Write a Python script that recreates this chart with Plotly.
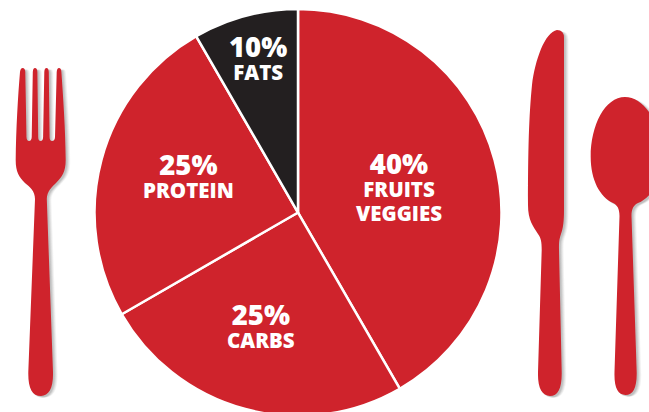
import plotly.graph_objects as go

W, H = 649, 416  # page is cropped to the 412 px window; the plate runs past the bottom edge

# Slices as drawn (sweep in degrees, clockwise from 12 o'clock)
categories = ["FRUITS<br>VEGGIES", "CARBS", "PROTEIN", "FATS"]
drawn_sweep = [150, 90, 90, 30]
share_labels = ["40%", "25%", "25%", "10%"]
slice_colors = ["#cf232c", "#cf232c", "#cf232c", "#231f20"]
label_pos = [(399, 186.3), (261, 324.5), (188, 174.5), (258, 57)]

RED = "#cf232c"
SHADOW = "#8a8a8a"

FORK = ("M 15.7,160 C 16,130 18,95 20,72 Q 20.5,68 22.7,68 Q 25,68 25.3,72 L 26.5,137 Q 26.7,141 29,141 "
        "Q 31.5,141 31.7,137 L 32.8,72 Q 33,68 35,68 Q 37.2,68 37.4,72 L 38.2,137 Q 38.3,141 40.5,141 "
        "Q 43,141 43.1,137 L 44.3,72 Q 44.5,68 46.5,68 Q 48.6,68 48.8,72 L 49.6,137 Q 49.7,141 52,141 "
        "Q 54.8,141 55,137 L 56.7,72 Q 57,68 59,68 Q 61.2,68 61.4,72 C 63,95 65.5,130 65.7,160 "
        "C 65.7,172 62,177 56,183 C 52,187 47,191 46.8,199 L 53,372 C 53.5,388 49,396 41,396 "
        "C 32,396 28,388 28.3,372 L 35,199 C 35,191 30,187 25,183 C 19,177 15.7,172 15.7,160 Z")

KNIFE = ("M 564,38 Q 564,30 557,30 C 545,32 535,60 532,85 C 529,115 528,150 528,205 "
         "C 528,220 533,226 538,234 C 541,238 541.7,242 541.7,250 L 538,372 C 537.5,388 542,396 550,396 "
         "C 558,396 562,388 561.7,372 L 559,250 C 559,242 559,240 561,234 C 563,228 564,222 564,210 Z")

SPOON = ("M 625,97 C 605,97 590.7,125 590.7,157 C 590.7,180 600,197 613,203 C 617,205 619.5,208 619.5,216 "
         "L 614.5,372 C 614,388 618,395 625.5,395 C 633,395 637,388 636.7,372 L 631.5,216 "
         "C 631.5,208 634,205 638,203 C 652,197 662,180 662,157 C 662,125 645,97 625,97 Z")


def to_paper(path, dx=0.0, dy=0.0):
    out = []
    for tok in path.split():
        if "," in tok:
            x, y = tok.split(",")
            out.append(f"{(float(x) + dx) / W:.5f},{1 - (float(y) + dy) / H:.5f}")
        else:
            out.append(tok)
    return " ".join(out)


shapes = []
for p in (FORK, KNIFE, SPOON):
    for off, op in ((4.5, 0.10), (3.5, 0.14), (2.5, 0.2), (1.5, 0.25)):
        shapes.append(dict(type="path", path=to_paper(p, off, 1.5), xref="paper", yref="paper",
                           fillcolor=SHADOW, opacity=op, line=dict(width=0), layer="below"))
    shapes.append(dict(type="path", path=to_paper(p), xref="paper", yref="paper",
                       fillcolor=RED, line=dict(width=0), layer="below"))

fig = go.Figure(go.Pie(
    labels=categories, values=drawn_sweep, sort=False, direction="clockwise", rotation=0,
    marker=dict(colors=slice_colors, line=dict(color="white", width=2.5)),
    textinfo="none", hoverinfo="skip", showlegend=False,
    domain=dict(x=[(298 - 204) / W, (298 + 204) / W], y=[0, 1 - 9 / H]),
))

FAM = "Open Sans"
anns = []
for share, cat, (x, y) in zip(share_labels, categories, label_pos):
    lines = cat.split("<br>")
    body = "<br>".join(f"<span style='font-size:20.5px'>{ln}</span>" for ln in lines)
    anns.append(dict(text=f"<span style='font-size:27.5px'>{share}</span><br>{body}",
                     x=x / W, y=1 - y / H, xref="paper", yref="paper", showarrow=False,
                     xanchor="center", yanchor="middle", align="center",
                     font=dict(family=FAM, size=18, color="white", weight=800)))

fig.update_layout(width=W, height=H, margin=dict(l=0, r=0, t=0, b=0), autosize=False,
                  paper_bgcolor="white", plot_bgcolor="white", shapes=shapes, annotations=anns)
fig.write_html("out.html", config=dict(displayModeBar=False),
               post_script="document.body.style.margin='0';document.documentElement.style.overflow='hidden';document.body.style.overflow='hidden';")
